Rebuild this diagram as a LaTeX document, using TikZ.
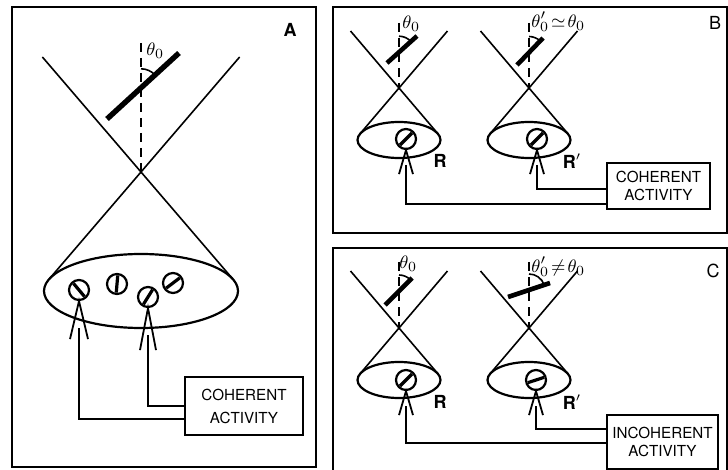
\documentclass[tikz,border=0pt]{standalone}
\usepackage{fontspec}
\setmainfont{TeX Gyre Heros}
\newcommand\mycone[6]{%
  \pgfmathsetmacro\cdd{#3-#2}%
  \pgfmathsetmacro\cyt{#3-(#5)*(#5)/\cdd}%
  \pgfmathsetmacro\cxt{#4*sqrt(1-((#5)/\cdd)^2)}%
  \pgfmathsetmacro\cxu{\cxt*(#2-#6)/(\cyt-#2)}%
  \pgfmathsetmacro\crx{#4/2}\pgfmathsetmacro\cry{#5/2}%
  \draw[thinl] (#1-\cxu,#6) -- (#1+\cxt,\cyt);
  \draw[thinl] (#1+\cxu,#6) -- (#1-\cxt,\cyt);
  \draw[ell] (#1,#3) ellipse [x radius=\crx pt, y radius=\cry pt];
}
\newcommand\myrec[4]{%
  \node[rec] (#1) at (#2,#3) {};
  \draw[recbar, shift={(#2,#3)}, rotate=#4] (-4.3pt,0pt) -- (4.3pt,0pt);
}
\newcommand\myarr[3]{%
  \draw[wire] ([xshift=-#2,yshift=-#3]#1.south) -- (#1.south) -- ([xshift=#2,yshift=-#3]#1.south);
}
\begin{document}
\begin{tikzpicture}[x=0.5pt,y=-0.5pt,
  thinl/.style={line width=0.8pt},
  ell/.style={line width=1.1pt},
  panel/.style={line width=0.8pt},
  barA/.style={line width=2.7pt},
  barB/.style={line width=2.3pt},
  dsh/.style={line width=0.7pt, dash pattern=on 4.5pt off 3pt},
  wire/.style={line width=0.9pt},
  rec/.style={circle, draw, line width=1.1pt, minimum size=10pt, inner sep=0pt},
  recbar/.style={line width=1.6pt},
  txtbox/.style={draw, line width=0.85pt, align=center, inner sep=0pt},
  lbl/.style={font=\fontsize{9.5}{9.5}\selectfont, inner sep=0pt, anchor=west},
  rlab/.style={font=\bfseries\fontsize{9}{9}\selectfont, inner sep=0pt},
  plab/.style={font=\fontsize{9}{9}\selectfont, inner sep=0pt},
]
\useasboundingbox (0,0) rectangle (728,470);

% panels
\draw[panel] (12,7) rectangle (316,467);
\draw[panel] (333,7) rectangle (727,233);
\draw[panel] (333,248) rectangle (727,490);

% ---------------- Panel A ----------------
\node[plab, font=\bfseries\fontsize{9}{9}\selectfont] (labA) at (290,30) {A};
\mycone{141}{172}{291}{97}{37}{57}
\draw[dsh] (141,43) -- (141,172);
\draw[barA] (107,119) -- (179,53);
\draw[thinl] (141,87.8) ++(90:9.5pt) arc[start angle=90, end angle=42.5, radius=9.5pt];
\node[lbl] (thA) at (146,51) {$\theta_0$};

\myrec{recA1}{79}{290}{130}
\myrec{recA2}{117}{284}{85}
\myrec{recA3}{148}{297}{58}
\myrec{recA4}{173}{283}{37}
\myarr{recA1}{4.5pt}{19pt}
\myarr{recA3}{4pt}{21pt}

\node[txtbox, minimum width=59pt, minimum height=29pt,
      font=\fontsize{7.6}{11.5}\selectfont] (boxA) at (244,406) {COHERENT\\ACTIVITY};
\coordinate (sA1) at (79,328);
\coordinate (sA3) at (148,335);
\draw[wire] (sA1) |- ([yshift=-6.5pt]boxA.west);
\draw[wire] (sA3) |- (boxA.west);

% ---------------- Panel B ----------------
\node[plab] (labB) at (715,23) {B};
\mycone{399}{88}{140}{41.5}{18}{31}
\mycone{529}{88}{140}{41.5}{18}{31}
\draw[dsh] (399,23) -- (399,88);
\draw[dsh] (529,23) -- (529,88);
\draw[barB] (387,63) -- (417,36);
\draw[barB] (517,65) -- (543,38);
\draw[thinl] (399,52.2) ++(90:8pt) arc[start angle=90, end angle=42, radius=8pt];
\draw[thinl] (529,52.5) ++(90:8pt) arc[start angle=90, end angle=46, radius=8pt];
\node[lbl] (thBL) at (402,24) {$\theta_0$};
\node[lbl] (thBR) at (531,22) {$\theta'_0\mkern2mu{\simeq}\mkern2mu\theta_0$};

\myrec{recBL}{406}{139}{45}
\myrec{recBR}{537}{139}{45}
\myarr{recBL}{3.5pt}{12pt}
\myarr{recBR}{3.5pt}{12pt}
\node[rlab] (labR1) at (440,161) {R};
\node[rlab] (labR2) at (572,161) {R$'$};

\node[txtbox, minimum width=51.5pt, minimum height=23pt,
      font=\fontsize{7.6}{9}\selectfont] (boxB) at (658.5,186) {COHERENT\\ACTIVITY};
\coordinate (sBL) at (406,165);
\coordinate (sBR) at (537,165);
\draw[wire] (sBL) |- ([yshift=-9pt]boxB.west);
\draw[wire] (sBR) |- ([yshift=-1.5pt]boxB.west);

% ---------------- Panel C ----------------
\node[plab] (labC) at (713,271) {C};
\mycone{399}{328}{380}{41.5}{18}{271}
\mycone{529}{328}{380}{41.5}{18}{271}
\draw[dsh] (399,262) -- (399,328);
\draw[dsh] (529,262) -- (529,328);
\draw[barB] (385,305) -- (412,278);
\draw[barB] (508,297) -- (550,283);
\draw[thinl] (399,291) ++(90:8pt) arc[start angle=90, end angle=45, radius=8pt];
\draw[thinl] (529,290) ++(90:8pt) arc[start angle=90, end angle=18.4, radius=8pt];
\node[lbl] (thCL) at (399,264) {$\theta_0$};
\node[lbl] (thCR) at (531,267) {$\theta'_0\mkern2mu{\neq}\mkern2mu\theta_0$};

\myrec{recCL}{406}{380}{45}
\myrec{recCR}{536}{380}{18}
\myarr{recCL}{3.5pt}{12pt}
\myarr{recCR}{3.5pt}{12pt}
\node[rlab] (labR3) at (440,402) {R};
\node[rlab] (labR4) at (572,402) {R$'$};

\node[txtbox, minimum width=55.5pt, minimum height=27pt,
      font=\fontsize{7.6}{9}\selectfont] (boxC) at (662.5,442) {INCOHERENT\\ACTIVITY};
\coordinate (sCL) at (406,406);
\coordinate (sCR) at (536,406);
\draw[wire] (sCL) |- ([yshift=-0.5pt]boxC.west);
\draw[wire] (sCR) |- ([yshift=6.5pt]boxC.west);
\end{tikzpicture}
\end{document}
